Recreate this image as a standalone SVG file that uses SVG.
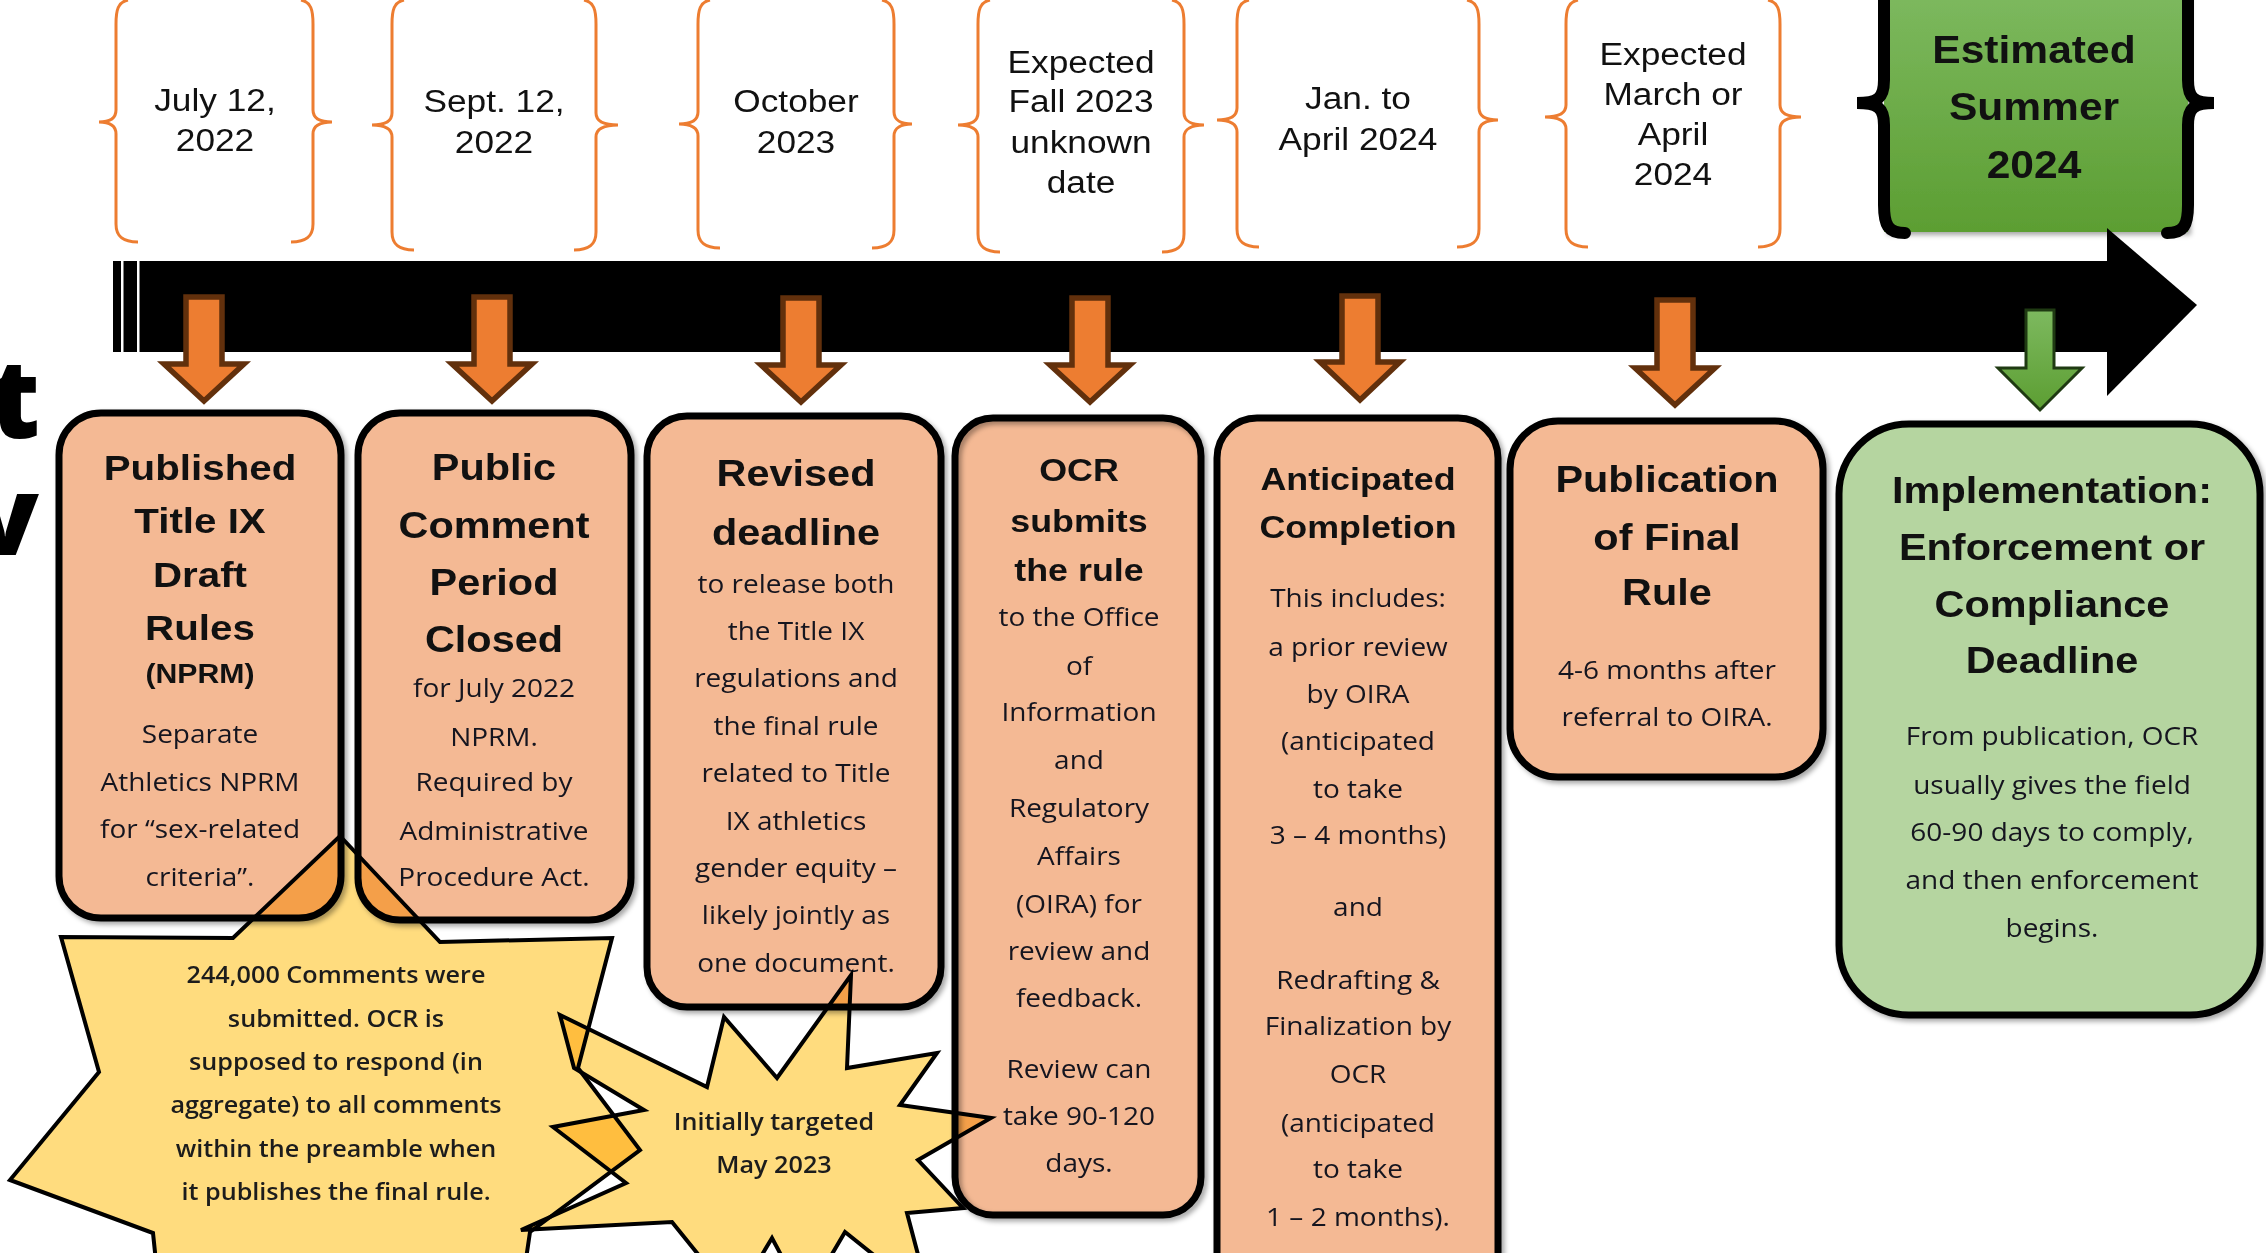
<svg xmlns="http://www.w3.org/2000/svg" width="2266" height="1253" viewBox="0 0 2266 1253">
<defs>
<style>
.h{font-family:"Liberation Sans",Arial,sans-serif;font-weight:bold;text-anchor:middle;fill:#111}
.d{font-family:"Liberation Sans",Arial,sans-serif;font-size:31.5px;text-anchor:middle;fill:#111}
.b{font-family:"Open Sans",sans-serif;font-size:25px;font-weight:500;text-anchor:middle;fill:#15151f}
.s{font-family:"Open Sans",sans-serif;font-size:22.5px;font-weight:600;text-anchor:middle;fill:#1c1c1c}
.box{stroke:#000;stroke-width:7;fill:#f4b994}
.arr{fill:#ed7d31;stroke:#62300c;stroke-width:5.5}
.brace{fill:none;stroke:#ed7d31;stroke-width:3}
.star{fill:#ffdc7e;stroke:#000;stroke-width:4;mix-blend-mode:multiply}
.frag{font-family:"Open Sans",sans-serif;font-weight:800;font-size:110px;text-anchor:end;fill:#000}
</style>
<linearGradient id="gg" x1="0" y1="0" x2="0" y2="1">
<stop offset="0" stop-color="#7db95f"/><stop offset="1" stop-color="#5c9e32"/>
</linearGradient>
<filter id="sh" x="-10%" y="-10%" width="130%" height="130%">
<feDropShadow dx="3" dy="3" stdDeviation="2.5" flood-color="#000" flood-opacity="0.35"/>
</filter>
</defs>
<rect width="2266" height="1253" fill="#fff"/>

<g id="fragments">
<text class="frag" x="40" y="438">t</text>
<text class="frag" x="39" y="555">v</text>
</g>

<g id="braces">
<path class="brace" d="M128,0 C118,2 116,10 116,24 L116,110 C116,118 110,122 99,122 C110,122 116,126 116,134 L116,224 C116,236 122,242 138,242"/>
<path class="brace" d="M301,0 C311,2 313,10 313,24 L313,110 C313,118 320,122 332,122 C320,122 313,126 313,134 L313,224 C313,236 307,242 291,242"/>
<text class="d" transform="translate(215,0) scale(1.12,1)"><tspan x="0" y="111">July 12,</tspan><tspan x="0" y="151">2022</tspan></text>

<path class="brace" d="M404,0 C394,2 392,10 392,24 L392,113 C392,121 385,125 372,125 C385,125 392,129 392,137 L392,232 C392,244 398,250 414,250"/>
<path class="brace" d="M584,0 C594,2 596,10 596,24 L596,113 C596,121 604,125 618,125 C604,125 596,129 596,137 L596,232 C596,244 590,250 574,250"/>
<text class="d" transform="translate(494,0) scale(1.12,1)"><tspan x="0" y="112">Sept. 12,</tspan><tspan x="0" y="153">2022</tspan></text>

<path class="brace" d="M710,0 C700,2 698,10 698,24 L698,112 C698,120 691,124 679,124 C691,124 698,128 698,136 L698,230 C698,242 704,248 720,248"/>
<path class="brace" d="M882,0 C892,2 894,10 894,24 L894,112 C894,120 901,124 912,124 C901,124 894,128 894,136 L894,230 C894,242 888,248 872,248"/>
<text class="d" transform="translate(796,0) scale(1.12,1)"><tspan x="0" y="112">October</tspan><tspan x="0" y="153">2023</tspan></text>

<path class="brace" d="M990,0 C980,2 978,10 978,24 L978,113 C978,121 971,125 958,125 C971,125 978,129 978,137 L978,234 C978,246 984,252 1000,252"/>
<path class="brace" d="M1172,0 C1182,2 1184,10 1184,24 L1184,113 C1184,121 1192,125 1204,125 C1192,125 1184,129 1184,137 L1184,234 C1184,246 1178,252 1162,252"/>
<text class="d" transform="translate(1081,0) scale(1.12,1)"><tspan x="0" y="73">Expected</tspan><tspan x="0" y="112">Fall 2023</tspan><tspan x="0" y="153">unknown</tspan><tspan x="0" y="193">date</tspan></text>

<path class="brace" d="M1249,0 C1239,2 1237,10 1237,24 L1237,108 C1237,116 1230,120 1217,120 C1230,120 1237,124 1237,132 L1237,229 C1237,241 1243,247 1259,247"/>
<path class="brace" d="M1467,0 C1477,2 1479,10 1479,24 L1479,108 C1479,116 1486,120 1498,120 C1486,120 1479,124 1479,132 L1479,229 C1479,241 1473,247 1457,247"/>
<text class="d" transform="translate(1358,0) scale(1.12,1)"><tspan x="0" y="109">Jan. to</tspan><tspan x="0" y="150">April 2024</tspan></text>

<path class="brace" d="M1578,0 C1568,2 1566,10 1566,24 L1566,105 C1566,113 1559,117 1545,117 C1559,117 1566,121 1566,129 L1566,229 C1566,241 1572,247 1588,247"/>
<path class="brace" d="M1768,0 C1778,2 1780,10 1780,24 L1780,105 C1780,113 1788,117 1801,117 C1788,117 1780,121 1780,129 L1780,229 C1780,241 1774,247 1758,247"/>
<text class="d" transform="translate(1673,0) scale(1.12,1)"><tspan x="0" y="65">Expected</tspan><tspan x="0" y="105">March or</tspan><tspan x="0" y="145">April</tspan><tspan x="0" y="185">2024</tspan></text>
</g>

<g id="estimated">
<rect x="1884" y="-10" width="304" height="242" fill="url(#gg)" filter="url(#sh)"/>
<path d="M1905,233 C1888,233 1884,225 1884,205 L1884,125 C1884,108 1878,103 1857,103 C1878,103 1884,98 1884,80 L1884,-10" fill="none" stroke="#000" stroke-width="12" stroke-linecap="round"/>
<path d="M2167,233 C2184,233 2188,225 2188,205 L2188,125 C2188,108 2194,103 2214,103 C2194,103 2188,98 2188,80 L2188,-10" fill="none" stroke="#000" stroke-width="12" stroke-linecap="round"/>
<text class="h" style="font-size:38px" transform="translate(2034,0) scale(1.12,1)"><tspan x="0" y="63">Estimated</tspan><tspan x="0" y="120">Summer</tspan><tspan x="0" y="178">2024</tspan></text>
</g>

<g id="timeline">
<rect x="113" y="261" width="1997" height="91" fill="#000"/>
<polygon points="2107,228 2197,305 2107,396" fill="#000"/>
<rect x="121" y="261" width="2.5" height="91" fill="#fff"/>
<rect x="137" y="261" width="2.5" height="91" fill="#fff"/>
</g>

<g id="connectors">
<path class="arr" d="M186,297 H222 V364 H244 L204,401 L164,364 H186 Z"/>
<path class="arr" d="M474,297 H510 V364 H532 L492,401 L452,364 H474 Z"/>
<path class="arr" d="M783,298 H819 V365 H841 L801,402 L761,365 H783 Z"/>
<path class="arr" d="M1072,298 H1108 V365 H1130 L1090,402 L1050,365 H1072 Z"/>
<path class="arr" d="M1342,296 H1378 V362 H1400 L1360,400 L1320,362 H1342 Z"/>
<path class="arr" d="M1657,300 H1693 V368 H1715 L1675,405 L1635,368 H1657 Z"/>
<path d="M2026,310 H2054 V368 H2082 L2040,410 L1998,368 H2026 Z" fill="url(#gg)" stroke="#1f3a12" stroke-width="3"/>
</g>

<g id="box1">
<rect class="box" x="59" y="413" width="282" height="505" rx="42" filter="url(#sh)"/>
<text class="h" style="font-size:36px" transform="translate(200,0) scale(1.12,1)"><tspan x="0" y="480">Published</tspan><tspan x="0" y="533">Title IX</tspan><tspan x="0" y="587">Draft</tspan><tspan x="0" y="640">Rules</tspan><tspan x="0" y="683" style="font-size:27px">(NPRM)</tspan></text>
<text class="b" transform="translate(200,0) scale(1.12,1)"><tspan x="0" y="743">Separate</tspan><tspan x="0" y="791">Athletics NPRM</tspan><tspan x="0" y="838">for “sex-related</tspan><tspan x="0" y="886">criteria”.</tspan></text>
</g>

<g id="box2">
<rect class="box" x="358" y="413" width="273" height="507" rx="42" filter="url(#sh)"/>
<text class="h" style="font-size:37px" transform="translate(494,0) scale(1.12,1)"><tspan x="0" y="480">Public</tspan><tspan x="0" y="538">Comment</tspan><tspan x="0" y="595">Period</tspan><tspan x="0" y="652">Closed</tspan></text>
<text class="b" transform="translate(494,0) scale(1.12,1)"><tspan x="0" y="697">for July 2022</tspan><tspan x="0" y="746">NPRM.</tspan><tspan x="0" y="791">Required by</tspan><tspan x="0" y="840">Administrative</tspan><tspan x="0" y="886">Procedure Act.</tspan></text>
</g>

<g id="box3">
<rect class="box" x="647" y="416" width="294" height="591" rx="40" filter="url(#sh)"/>
<text class="h" style="font-size:37px" transform="translate(796,0) scale(1.12,1)"><tspan x="0" y="486">Revised</tspan><tspan x="0" y="545">deadline</tspan></text>
<text class="b" transform="translate(796,0) scale(1.12,1)"><tspan x="0" y="593">to release both</tspan><tspan x="0" y="640">the Title IX</tspan><tspan x="0" y="687">regulations and</tspan><tspan x="0" y="735">the final rule</tspan><tspan x="0" y="782">related to Title</tspan><tspan x="0" y="830">IX athletics</tspan><tspan x="0" y="877">gender equity –</tspan><tspan x="0" y="924">likely jointly as</tspan><tspan x="0" y="972">one document.</tspan></text>
</g>

<g id="box5">
<rect class="box" x="1217" y="418" width="281" height="900" rx="40" filter="url(#sh)"/>
<text class="h" style="font-size:32px" transform="translate(1358,0) scale(1.12,1)"><tspan x="0" y="490">Anticipated</tspan><tspan x="0" y="538">Completion</tspan></text>
<text class="b" transform="translate(1358,0) scale(1.12,1)"><tspan x="0" y="607">This includes:</tspan><tspan x="0" y="656">a prior review</tspan><tspan x="0" y="703">by OIRA</tspan><tspan x="0" y="750">(anticipated</tspan><tspan x="0" y="798">to take</tspan><tspan x="0" y="844">3 – 4 months)</tspan><tspan x="0" y="916">and</tspan><tspan x="0" y="989">Redrafting &amp;</tspan><tspan x="0" y="1035">Finalization by</tspan><tspan x="0" y="1083">OCR</tspan><tspan x="0" y="1132">(anticipated</tspan><tspan x="0" y="1178">to take</tspan><tspan x="0" y="1226">1 – 2 months).</tspan></text>
</g>

<g id="box6">
<rect class="box" x="1510" y="421" width="313" height="356" rx="48" filter="url(#sh)"/>
<text class="h" style="font-size:37px" transform="translate(1667,0) scale(1.12,1)"><tspan x="0" y="492">Publication</tspan><tspan x="0" y="550">of Final</tspan><tspan x="0" y="605">Rule</tspan></text>
<text class="b" transform="translate(1667,0) scale(1.12,1)"><tspan x="0" y="679">4-6 months after</tspan><tspan x="0" y="726">referral to OIRA.</tspan></text>
</g>

<g id="box7">
<rect x="1839" y="424" width="421" height="591" rx="70" fill="#b5d5a0" stroke="#000" stroke-width="7" filter="url(#sh)"/>
<text class="h" style="font-size:37px" transform="translate(2052,0) scale(1.12,1)"><tspan x="0" y="503">Implementation:</tspan><tspan x="0" y="560">Enforcement or</tspan><tspan x="0" y="617">Compliance</tspan><tspan x="0" y="673">Deadline</tspan></text>
<text class="b" transform="translate(2052,0) scale(1.12,1)"><tspan x="0" y="745">From publication, OCR</tspan><tspan x="0" y="794">usually gives the field</tspan><tspan x="0" y="841">60-90 days to comply,</tspan><tspan x="0" y="889">and then enforcement</tspan><tspan x="0" y="937">begins.</tspan></text>
</g>

<g id="star1">
<polygon class="star" points="340,836 440,942 612,938 578,1068 640,1150 530,1232 520,1300 160,1300 153,1233 10,1180 99,1072 61,937 233,938"/>
<text class="s" transform="translate(336,0) scale(1.12,1)"><tspan x="0" y="983">244,000 Comments were</tspan><tspan x="0" y="1027">submitted. OCR is</tspan><tspan x="0" y="1070">supposed to respond (in</tspan><tspan x="0" y="1113">aggregate) to all comments</tspan><tspan x="0" y="1157">within the preamble when</tspan><tspan x="0" y="1200">it publishes the final rule.</tspan></text>
</g>

<g id="star2">
<polygon class="star" points="560,1015 707,1087 724,1017 777,1078 851,975 847,1068 937,1053 900,1105 991,1118 918,1160 963,1208 907,1213 930,1300 845,1232 805,1300 772,1238 735,1300 672,1222 521,1230 626,1183 553,1127 644,1110 574,1068"/>
<text class="s" transform="translate(774,0) scale(1.12,1)"><tspan x="0" y="1130">Initially targeted</tspan><tspan x="0" y="1173">May 2023</tspan></text>
</g>

<g id="box4">
<rect x="955" y="418" width="246" height="797" rx="38" fill="#f4b994" style="mix-blend-mode:multiply"/>
<rect x="955" y="418" width="246" height="797" rx="38" fill="none" stroke="#000" stroke-width="7" filter="url(#sh)"/>
<text class="h" style="font-size:32px" transform="translate(1079,0) scale(1.12,1)"><tspan x="0" y="481">OCR</tspan><tspan x="0" y="532">submits</tspan><tspan x="0" y="581">the rule</tspan></text>
<text class="b" transform="translate(1079,0) scale(1.12,1)"><tspan x="0" y="626">to the Office</tspan><tspan x="0" y="675">of</tspan><tspan x="0" y="721">Information</tspan><tspan x="0" y="769">and</tspan><tspan x="0" y="817">Regulatory</tspan><tspan x="0" y="865">Affairs</tspan><tspan x="0" y="913">(OIRA) for</tspan><tspan x="0" y="960">review and</tspan><tspan x="0" y="1007">feedback.</tspan><tspan x="0" y="1078">Review can</tspan><tspan x="0" y="1125">take 90-120</tspan><tspan x="0" y="1172">days.</tspan></text>
</g>
</svg>
